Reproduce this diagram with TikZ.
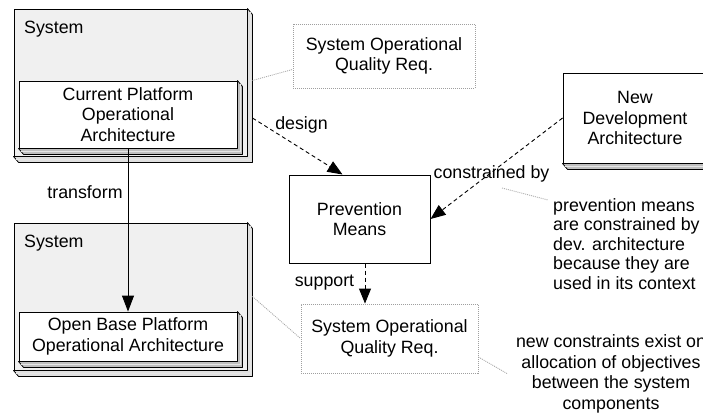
\documentclass[tikz,border=0pt]{standalone}
\usepackage{fontspec}
\setmainfont{Liberation Sans}
\usetikzlibrary{arrows.meta,calc}

% extruded lower-right edge of a 3-D box, drawn round the named front face
\newcommand\boxdepth[2][gray!40]{%
  \filldraw[fill=#1, draw=black, line width=0.8pt, line join=round]
    (#2.north east) -- ++(5,6) -- ($(#2.south east)+(5,6)$)
    -- ($(#2.south west)+(5,6)$) -- (#2.south west) -- (#2.south east) -- cycle;
  \draw[white!80!gray, line width=0.6pt]
    ($(#2.north east)+(2.5,3)$) -- ($(#2.south east)+(2.5,3)$)
    -- ($(#2.south west)+(2.5,3)$);}

\begin{document}
\begin{tikzpicture}[x=1pt,y=-1pt,
  every node/.style={font=\fontsize{17.8}{20.7}\selectfont, text=black},
  sysbox/.style={draw=black, line width=0.9pt, fill=gray!12,
    minimum width=233pt, minimum height=147pt, inner sep=0pt},
  archbox/.style={draw=black, line width=0.9pt, fill=white,
    minimum width=218pt, align=center, inner sep=0pt},
  reqbox/.style={draw=gray!75, line width=0.9pt, dash pattern=on 1pt off 1pt,
    fill=white, align=center, inner sep=0pt},
  meansbox/.style={draw=black, line width=1pt, fill=white, align=center,
    minimum width=141pt, minimum height=88pt, inner sep=0pt},
  lbl/.style={inner sep=1pt},
  dep/.style={draw=black, line width=0.9pt, dash pattern=on 4pt off 3pt,
    -{Triangle[length=15pt,width=12pt]}},
  flow/.style={draw=black, line width=0.9pt, -{Triangle[length=16pt,width=12pt]}},
  notelink/.style={draw=gray!70, line width=0.8pt, dash pattern=on 1pt off 1pt},
  notetext/.style={align=left, inner sep=5pt},
]
\fill[white] (0,0) rectangle (703,412);
\useasboundingbox (0,0) rectangle (703,412);
\clip (0,0) rectangle (703,412);

% upper system with its current architecture
\node[sysbox] (sys1) at (130.5,82.5) {};
\boxdepth[gray!25]{sys1}
\node[lbl, anchor=west] (sys1lbl) at (23,29) {System};
\node[archbox, minimum height=67pt] (cur) at (128,114.5)
  {Current Platform\\Operational\\Architecture};
\boxdepth[gray!50]{cur}

% lower system with the open base architecture
\node[sysbox] (sys2) at (130.5,296.5) {};
\boxdepth[gray!25]{sys2}
\node[lbl, anchor=west] (sys2lbl) at (23,243) {System};
\node[archbox, minimum height=49pt] (open) at (128,336.5)
  {Open Base Platform\\Operational Architecture};
\boxdepth[gray!50]{open}

% requirements, means and development architecture
\node[reqbox, minimum width=182pt, minimum height=64pt] (req1) at (384,56)
  {System Operational\\Quality Req.};
\node[meansbox] (pm) at (359.5,219) {Prevention\\Means};
\node[reqbox, minimum width=177pt, minimum height=69pt] (req2) at (389.5,338.5)
  {System Operational\\Quality Req.};
\node[archbox, minimum width=144pt, minimum height=90pt] (nda) at (635,118)
  {New\\Development\\Architecture};
\boxdepth[gray!50]{nda}

% annotations
\node[notetext, anchor=west, font=\fontsize{17.8}{19.6}\selectfont] (note1) at (548,244)
  {prevention means\\are constrained by\\dev. architecture\\because they are\\used in its context};
\node[align=center, inner sep=8pt] (note2) at (611,374)
  {new constraints exist on\\allocation of objectives\\between the system\\components};

% connectors
\draw[flow] (cur.south) -- (open.north);
\node[lbl] (ltransform) at (85,192) {transform};

\draw[dep] ($(sys1.east)+(5,35.5)$) -- ($(pm.north west)+(54,0)$);
\node[lbl] (ldesign) at (301.5,125) {design};

\draw[dep] (nda.west) -- (pm.east);
\node[lbl] (lconstr) at (491.5,174) {constrained by};

\draw[dep] ($(pm.south)+(5.5,0)$) -- ($(req2.north -| pm.south)+(5.5,0)$);
\node[lbl] (lsupport) at (324.5,283) {support};

% annotation links
\draw[notelink] ($(sys1.east)+(5,-2)$) -- ($(req1.south west)+(0,-19)$);
\draw[notelink] ($(sys2.east)+(5,0)$) -- (req2.west);
\draw[notelink] ($(req2.east)+(0,18.5)$) -- (note2.west);
\coordinate (cbtail) at (502,188);
\draw[notelink] (cbtail) -- ($(note1.west)+(0,-44)$);
\end{tikzpicture}
\end{document}
